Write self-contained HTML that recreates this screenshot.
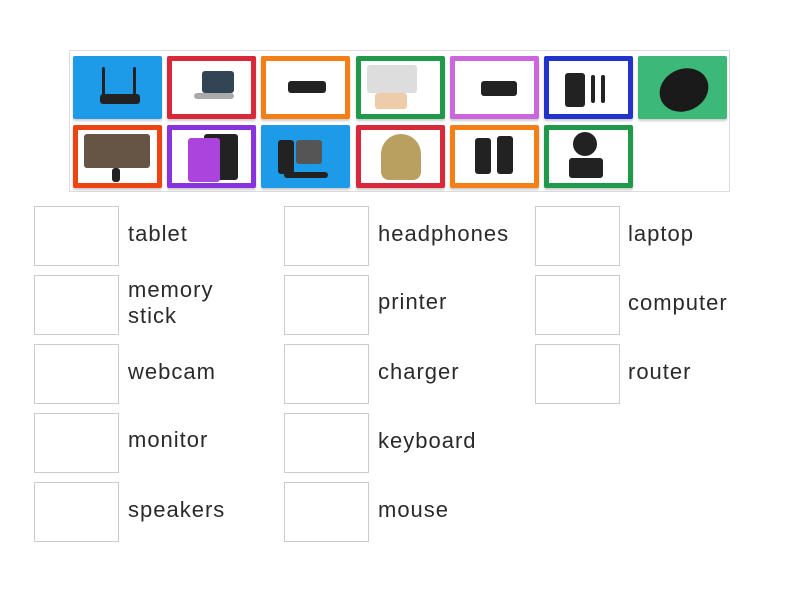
<!DOCTYPE html><html><head><style>
body{margin:0;width:800px;height:600px;background:#fff;font-family:"Liberation Sans",sans-serif;position:relative;overflow:hidden}
.c{position:absolute;left:69px;top:50px;width:661px;height:142px;border:1px solid #ddd;box-sizing:border-box}
.t{position:absolute;width:89px;height:63px;box-sizing:border-box;border:5px solid;background:#fff;border-radius:2px;box-shadow:0 2px 2px rgba(0,0,0,.2)}
.t i{position:absolute;background:#222;border-radius:3px}
.b{position:absolute;width:85px;height:60px;border:1px solid #ccc;box-sizing:border-box}
.l{position:absolute;font-size:22px;color:#2a2a2a;line-height:26px;letter-spacing:1px}
</style></head><body>
<div class="c"></div>
<div class="t" style="left:73px;top:56px;background:#1e9be8;border-color:#1e9be8"><i style="left:22px;top:33px;width:40px;height:10px"></i><i style="left:24px;top:6px;width:3px;height:28px"></i><i style="left:55px;top:6px;width:3px;height:28px"></i></div>
<div class="t" style="left:167px;top:56px;border-color:#d8283a"><i style="left:30px;top:10px;width:32px;height:22px;background:#345"></i><i style="left:22px;top:32px;width:40px;height:6px;background:#aaa"></i></div>
<div class="t" style="left:261px;top:56px;border-color:#f57f17"><i style="left:22px;top:20px;width:38px;height:12px"></i></div>
<div class="t" style="left:356px;top:56px;border-color:#1e9a4a"><i style="left:6px;top:4px;width:50px;height:28px;background:#ddd"></i><i style="left:14px;top:32px;width:32px;height:16px;background:#eca"></i></div>
<div class="t" style="left:450px;top:56px;border-color:#cc66dd"><i style="left:26px;top:20px;width:36px;height:15px"></i></div>
<div class="t" style="left:544px;top:56px;border-color:#2233cc"><i style="left:16px;top:12px;width:20px;height:34px"></i><i style="left:42px;top:14px;width:4px;height:28px"></i><i style="left:52px;top:14px;width:4px;height:28px"></i></div>
<div class="t" style="left:638px;top:56px;background:#3cb878;border-color:#3cb878"><i style="left:16px;top:8px;width:50px;height:42px;border-radius:50%;background:#1a1a1a;transform:rotate(-25deg)"></i></div>
<div class="t" style="left:73px;top:125px;border-color:#ee4411"><i style="left:6px;top:4px;width:66px;height:34px;background:#654"></i><i style="left:34px;top:38px;width:8px;height:14px"></i></div>
<div class="t" style="left:167px;top:125px;border-color:#8833dd"><i style="left:32px;top:4px;width:34px;height:46px"></i><i style="left:16px;top:8px;width:32px;height:44px;background:#a4d"></i></div>
<div class="t" style="left:261px;top:125px;background:#1e9be8;border-color:#1e9be8"><i style="left:12px;top:10px;width:16px;height:34px"></i><i style="left:30px;top:10px;width:26px;height:24px;background:#555"></i><i style="left:18px;top:42px;width:44px;height:6px"></i></div>
<div class="t" style="left:356px;top:125px;border-color:#d8283a"><i style="left:20px;top:4px;width:40px;height:46px;border-radius:20px 20px 8px 8px;background:#b9a060"></i></div>
<div class="t" style="left:450px;top:125px;border-color:#f57f17"><i style="left:20px;top:8px;width:16px;height:36px"></i><i style="left:42px;top:6px;width:16px;height:38px"></i></div>
<div class="t" style="left:544px;top:125px;border-color:#1e9a4a"><i style="left:24px;top:2px;width:24px;height:24px;border-radius:50%"></i><i style="left:20px;top:28px;width:34px;height:20px"></i></div>

<div class="b" style="left:34px;top:206px"></div><div class="l" style="left:128px;top:221px">tablet</div>
<div class="b" style="left:34px;top:275px"></div><div class="l" style="left:128px;top:277px">memory<br>stick</div>
<div class="b" style="left:34px;top:344px"></div><div class="l" style="left:128px;top:359px">webcam</div>
<div class="b" style="left:34px;top:413px"></div><div class="l" style="left:128px;top:427px">monitor</div>
<div class="b" style="left:34px;top:482px"></div><div class="l" style="left:128px;top:497px">speakers</div>
<div class="b" style="left:284px;top:206px"></div><div class="l" style="left:378px;top:221px">headphones</div>
<div class="b" style="left:284px;top:275px"></div><div class="l" style="left:378px;top:289px">printer</div>
<div class="b" style="left:284px;top:344px"></div><div class="l" style="left:378px;top:359px">charger</div>
<div class="b" style="left:284px;top:413px"></div><div class="l" style="left:378px;top:428px">keyboard</div>
<div class="b" style="left:284px;top:482px"></div><div class="l" style="left:378px;top:497px">mouse</div>
<div class="b" style="left:535px;top:206px"></div><div class="l" style="left:628px;top:221px">laptop</div>
<div class="b" style="left:535px;top:275px"></div><div class="l" style="left:628px;top:290px">computer</div>
<div class="b" style="left:535px;top:344px"></div><div class="l" style="left:628px;top:359px">router</div>
</body></html>
